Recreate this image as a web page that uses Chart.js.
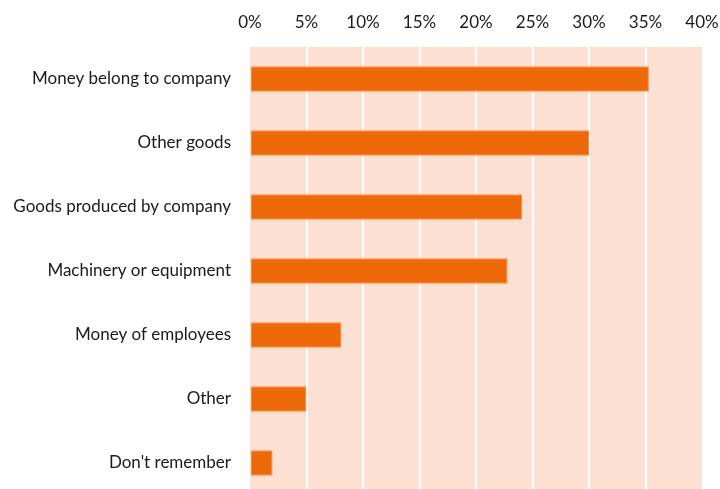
<!DOCTYPE html>
<html>
<head>
<meta charset="utf-8">
<script src="https://cdn.jsdelivr.net/npm/chart.js@4/dist/chart.umd.min.js"></script>
<style>
  html, body { margin: 0; padding: 0; background: #fff; overflow: hidden; }
  #wrap { width: 720px; height: 495px; }
</style>
</head>
<body>
<div id="wrap"><canvas id="chart" width="720" height="495"></canvas></div>
<script>
const categories = [
  "Money belong to company",
  "Other goods",
  "Goods produced by company",
  "Machinery or equipment",
  "Money of employees",
  "Other",
  "Don't remember"
];
const shares = [35.3, 30.0, 24.1, 22.8, 8.1, 5.0, 2.0];
const tickValues = [0, 5, 10, 15, 20, 25, 30, 35, 40];

const barColor = "#ED6809";
const plotBg = "#FCE1D2";

// fills the plot area with the peach background
const plotBackground = {
  id: "plotBackground",
  beforeDraw(chart) {
    const { ctx, chartArea } = chart;
    ctx.save();
    ctx.fillStyle = plotBg;
    ctx.fillRect(chartArea.left, chartArea.top, chartArea.right - chartArea.left, chartArea.bottom - chartArea.top);
    ctx.restore();
  }
};

// drop the label overhang padding so the layout padding decides the plot edges
function noOverhang(scale) {
  scale.paddingLeft = 0;
  scale.paddingRight = 0;
  scale.paddingTop = 0;
  scale.paddingBottom = 0;
}

Chart.defaults.font.family = "Lato, 'Open Sans', sans-serif";
Chart.defaults.font.size = 17;
Chart.defaults.color = "#1a1a1a";

new Chart(document.getElementById("chart"), {
  type: "bar",
  data: {
    labels: categories,
    datasets: [{
      data: shares,
      backgroundColor: barColor,
      borderColor: "#F28A45",
      borderWidth: 1,
      borderSkipped: false,
      barPercentage: 0.4,
      categoryPercentage: 1
    }]
  },
  options: {
    indexAxis: "y",
    responsive: false,
    animation: false,
    events: [],
    layout: { padding: { left: 0, right: 18, top: 0, bottom: 0 } },
    plugins: {
      legend: { display: false },
      tooltip: { enabled: false }
    },
    scales: {
      x: {
        position: "top",
        min: 0,
        max: 40,
        afterBuildTicks: (scale) => {
          scale.ticks = tickValues.map(v => ({ value: v }));
        },
        afterFit: (scale) => { scale.height = 47; noOverhang(scale); },
        ticks: {
          padding: 14,
          callback: (v) => v + "%"
        },
        grid: {
          drawTicks: false,
          lineWidth: 2,
          color: (c) => (c.index === 0 || c.index === tickValues.length - 1) ? "rgba(0,0,0,0)" : "#ffffff"
        },
        border: { display: false }
      },
      y: {
        afterFit: (scale) => { scale.width = 250; noOverhang(scale); },
        ticks: { padding: 19 },
        grid: { display: false, drawTicks: false },
        border: { display: false }
      }
    }
  },
  plugins: [plotBackground]
});
</script>
</body>
</html>
